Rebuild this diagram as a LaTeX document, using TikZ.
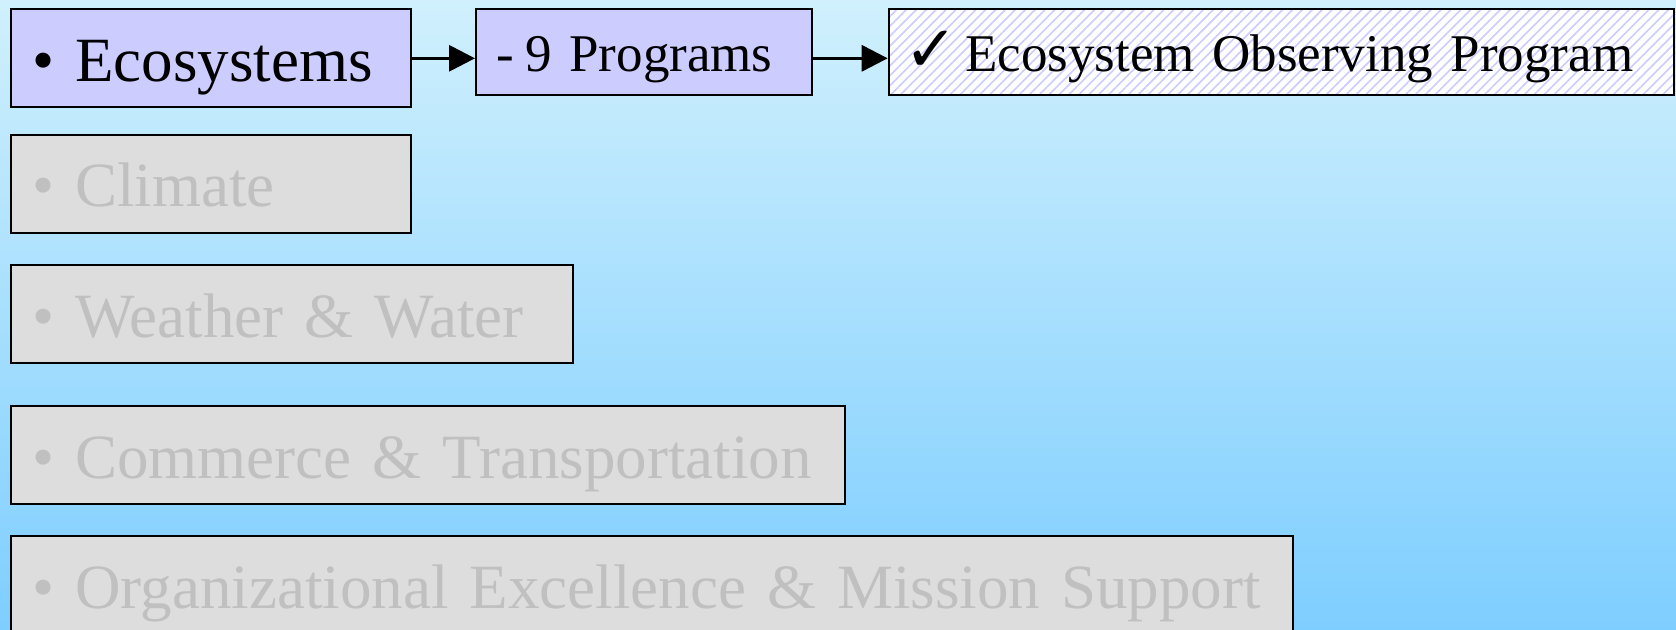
\documentclass[tikz,border=0pt]{standalone}
\usepackage{fontspec}
\setmainfont{Liberation Serif}
\newfontfamily\symfont{DejaVu Sans}
\usepackage{tikz}
\usetikzlibrary{positioning,arrows.meta,patterns.meta}
\definecolor{lav}{RGB}{204,204,255}
\definecolor{offfill}{RGB}{221,221,221}
\definecolor{offtext}{RGB}{192,192,192}
\definecolor{skytop}{RGB}{208,240,253}
\definecolor{skybot}{RGB}{126,206,255}
\tikzstyle{goalon} = [rectangle, draw=black, line width=1pt, fill=lav, text=black, align=left, font=\fontsize{31.5pt}{36pt}\selectfont, inner xsep=10.7pt, inner ysep=0pt, text height=36pt, text depth=13pt]
\tikzstyle{goaloff} = [goalon, fill=offfill, text=offtext]
\tikzstyle{prog} = [rectangle, draw=black, line width=1pt, fill=lav, text=black, align=left, font=\fontsize{26.5pt}{31pt}\selectfont, inner xsep=10pt, inner ysep=0pt, text height=31pt, text depth=12pt]
\tikzstyle{progchk} = [rectangle, draw=black, line width=1pt, preaction={fill=white}, pattern={Lines[angle=45,distance=3.5pt,line width=0.8pt]}, pattern color=lav, text=black, align=left, font=\fontsize{26.5pt}{31pt}\selectfont, inner xsep=12.5pt, inner ysep=0pt, text height=31.4pt, text depth=12pt]
\tikzstyle{tarrow} = [draw, line width=1.6pt, -{Triangle[length=13pt,width=13pt]}]

\begin{document}
\begin{tikzpicture}

% background =============================
\shade[top color=skytop, bottom color=skybot] (0,0) rectangle (838pt,-314.5pt);
\useasboundingbox (0,0) rectangle (838pt,-314.5pt);

% goals
\node[goalon, text width=178.6pt, anchor=north west] (eco) at (5pt,-4.15pt) {\textbullet{} Ecosystems};
\node[goaloff, text width=178.6pt, below right=12.75pt and 0pt of eco.south west] (climate) {\textbullet{} Climate};
\node[goaloff, text width=259.6pt, below right=15.25pt and 0pt of climate.south west] (weather) {\textbullet{} Weather \& Water};
\node[goaloff, text width=395.6pt, below right=20.5pt and 0pt of weather.south west] (commerce) {\textbullet{} Commerce \& Transportation};
\node[goaloff, text width=619.6pt, below right=15pt and 0pt of commerce.south west] (org) {\textbullet{} Organizational Excellence \& Mission Support};

% programs
\node[prog, text width=147.85pt, below right=0pt and 31.5pt of eco.north east] (progs) {-\hspace{5.8pt}9 Programs};
\node[progchk, text width=367.5pt, below right=-0.3pt and 37.5pt of progs.north east] (obs) {\hspace{-4.5pt}{\symfont\fontsize{32pt}{34pt}\selectfont ✓}\hspace{3.5pt}Ecosystem Observing Program};

%edges
\path[tarrow] (eco.east) -- (eco.east -| progs.west);
\path[tarrow] (progs.east |- eco.east) -- (eco.east -| obs.west);

\end{tikzpicture}
\end{document}
